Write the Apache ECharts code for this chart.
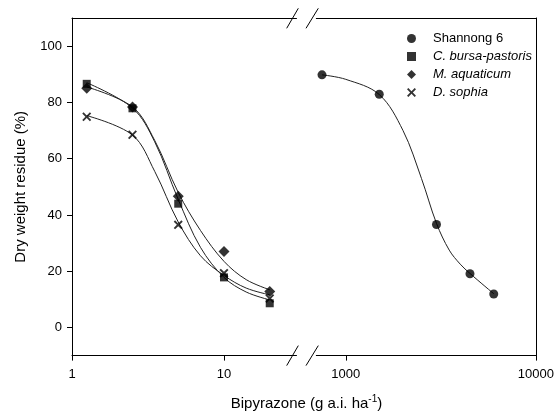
<!DOCTYPE html>
<html>
<head>
<meta charset="utf-8">
<script src="https://cdn.jsdelivr.net/npm/echarts@6/dist/echarts.min.js"></script>
<style>
  html, body { margin: 0; padding: 0; background: #fff; }
  #chart { width: 557px; height: 418px; }
</style>
</head>
<body>
<div id="chart"></div>
<script>
'use strict';
// doses (g a.i. ha-1)
var lowDoses = [1.25, 2.5, 5, 10, 20];
var highDoses = [750, 1500, 3000, 4500, 6000];

// measured dry weight residue (%)
var shannong6 = [89.8, 82.9, 36.6, 19.1, 11.9];
var bursaPastoris = [86.6, 77.9, 44.0, 17.8, 8.6];
var aquaticum = [85.0, 78.4, 46.6, 27.0, 12.8];
var sophia = [74.9, 68.5, 36.5, 19.3, 10.3];

// fitted curves
var lowFitDoses = [1.25, 2.5, 3.5, 5, 7, 10, 14, 20];
var bursaFit = [87.0, 78.0, 66.0, 45.5, 28.5, 17.8, 12.6, 9.8];
var aquaticumFit = [85.5, 78.4, 66.5, 48.0, 34.5, 23.5, 17.0, 13.4];
var sophiaFit = [75.3, 68.4, 55.5, 37.5, 25.5, 18.5, 14.0, 11.6];
var highFitDoses = [750, 1000, 1500, 2000, 2500, 3000, 3500, 4000, 4500, 6000];
var shannongFit = [89.8, 88.2, 82.8, 70.0, 53.0, 37.0, 27.5, 22.5, 19.2, 12.0];

// axis ticks
var yTicks = [0, 20, 40, 60, 80, 100];
var lowXTicks = [1, 10];
var highXTicks = [1000, 10000];

var names = ['Shannong 6', 'C. bursa-pastoris', 'M. aquaticum', 'D. sophia'];

function pairs(xs, ys) {
    return xs.map(function (x, i) { return [x, ys[i]]; });
}

var crossPath = 'path://M0,1.5L1.5,0L5,3.5L8.5,0L10,1.5L6.5,5L10,8.5L8.5,10L5,6.5L1.5,10L0,8.5L3.5,5Z';
var font = 'Liberation Sans, Arial, sans-serif';

function line() {
    return { show: true, onZero: false, lineStyle: { color: '#000', width: 1 } };
}

function init() {
    var chartDom = document.getElementById('chart');
    var myChart = echarts.init(chartDom);

    function scatter(name, xi, yi, data, symbol, size) {
        return {
            name: name,
            type: 'scatter',
            xAxisIndex: xi,
            yAxisIndex: yi,
            data: data,
            symbol: symbol,
            symbolSize: size,
            itemStyle: { color: '#000' },
            z: 5
        };
    }
    function fit(xi, yi, data) {
        return {
            type: 'line',
            xAxisIndex: xi,
            yAxisIndex: yi,
            data: data,
            smooth: 0.35,
            showSymbol: false,
            lineStyle: { color: '#222', width: 1 },
            silent: true,
            z: 3
        };
    }
    function plainLabel(v) {
        return String(v);
    }

    var option = {
        animation: false,
        textStyle: { fontFamily: font },
        grid: [
            { left: 72, top: 18, width: 224.5, bottom: 62.4 },
            { left: 316.3, top: 18, right: 17, bottom: 62.4 }
        ],
        legend: {
            orient: 'vertical',
            left: 407,
            top: 32,
            padding: 0,
            itemWidth: 9,
            itemHeight: 9,
            itemGap: 5,
            data: names,
            formatter: function (n) {
                return n === 'Shannong 6' ? '{n|' + n + '}' : '{i|' + n + '}';
            },
            textStyle: {
                fontSize: 13,
                color: '#000',
                fontFamily: font,
                rich: {
                    n: { fontSize: 13, fontFamily: font, color: '#000', padding: [0, 0, 0, 12] },
                    i: { fontStyle: 'italic', fontSize: 13, fontFamily: font, color: '#000', padding: [0, 0, 0, 12] }
                }
            }
        },
        xAxis: [
            {
                type: 'log', gridIndex: 0, min: 1, max: 30, position: 'bottom',
                axisLine: line(),
                axisTick: { show: true, length: 5, customValues: lowXTicks, lineStyle: { color: '#000' } },
                axisLabel: { customValues: lowXTicks, formatter: plainLabel, fontSize: 13, color: '#000', margin: 12 },
                splitLine: { show: false }, minorTick: { show: false }
            },
            {
                type: 'value', gridIndex: 0, min: 0, max: 1, position: 'top',
                axisLine: line(), axisTick: { show: false }, axisLabel: { show: false },
                splitLine: { show: false }
            },
            {
                type: 'log', gridIndex: 1, min: 700, max: 10000, position: 'bottom',
                axisLine: line(),
                axisTick: { show: true, length: 5, customValues: highXTicks, lineStyle: { color: '#000' } },
                axisLabel: { customValues: highXTicks, formatter: plainLabel, fontSize: 13, color: '#000', margin: 12 },
                splitLine: { show: false }, minorTick: { show: false }
            },
            {
                type: 'value', gridIndex: 1, min: 0, max: 1, position: 'top',
                axisLine: line(), axisTick: { show: false }, axisLabel: { show: false },
                splitLine: { show: false }
            }
        ],
        yAxis: [
            {
                type: 'value', gridIndex: 0, min: -10, max: 110, position: 'left',
                name: 'Dry weight residue (%)',
                nameLocation: 'middle',
                nameGap: 44,
                nameTextStyle: { fontSize: 15, color: '#000', fontFamily: font },
                axisLine: line(),
                axisTick: { show: true, length: 5, customValues: yTicks, lineStyle: { color: '#000' } },
                axisLabel: { customValues: yTicks, fontSize: 13, color: '#000', margin: 10 },
                splitLine: { show: false }
            },
            {
                type: 'value', gridIndex: 1, min: -10, max: 110, position: 'right',
                axisLine: line(), axisTick: { show: false }, axisLabel: { show: false },
                splitLine: { show: false }
            }
        ],
        series: [
            fit(2, 1, pairs(highFitDoses, shannongFit)),
            fit(0, 0, pairs(lowFitDoses, bursaFit)),
            fit(0, 0, pairs(lowFitDoses, aquaticumFit)),
            fit(0, 0, pairs(lowFitDoses, sophiaFit)),
            scatter(names[0], 2, 1, pairs(highDoses, shannong6), 'circle', 9),
            scatter(names[1], 0, 0, pairs(lowDoses, bursaPastoris), 'rect', 8),
            scatter(names[2], 0, 0, pairs(lowDoses, aquaticum), 'diamond', 11),
            scatter(names[3], 0, 0, pairs(lowDoses, sophia), crossPath, 9)
        ],
        graphic: [
            // axis break marks
            { type: 'line', shape: { x1: 286.7, y1: 28.3, x2: 298.3, y2: 8.3 }, style: { stroke: '#000', lineWidth: 1 } },
            { type: 'line', shape: { x1: 306, y1: 28.3, x2: 318.3, y2: 8.3 }, style: { stroke: '#000', lineWidth: 1 } },
            { type: 'line', shape: { x1: 286.7, y1: 365.6, x2: 298.3, y2: 345.6 }, style: { stroke: '#000', lineWidth: 1 } },
            { type: 'line', shape: { x1: 306, y1: 365.6, x2: 318.3, y2: 345.6 }, style: { stroke: '#000', lineWidth: 1 } },
            {
                type: 'text',
                x: 306.5,
                y: 404,
                style: {
                    text: '{a|Bipyrazone (g a.i. ha}{s|-1}{a|)}',
                    align: 'center',
                    verticalAlign: 'middle',
                    fill: '#000',
                    rich: {
                        a: { fontSize: 15, fontFamily: font, fill: '#000' },
                        s: { fontSize: 10, fontFamily: font, fill: '#000', padding: [0, 0, 9, 0] }
                    }
                }
            }
        ]
    };

    myChart.setOption(option);
    window.addEventListener('resize', function () {
        myChart.resize();
    });
}

(function () {
    init();
})();
</script>
</body>
</html>
